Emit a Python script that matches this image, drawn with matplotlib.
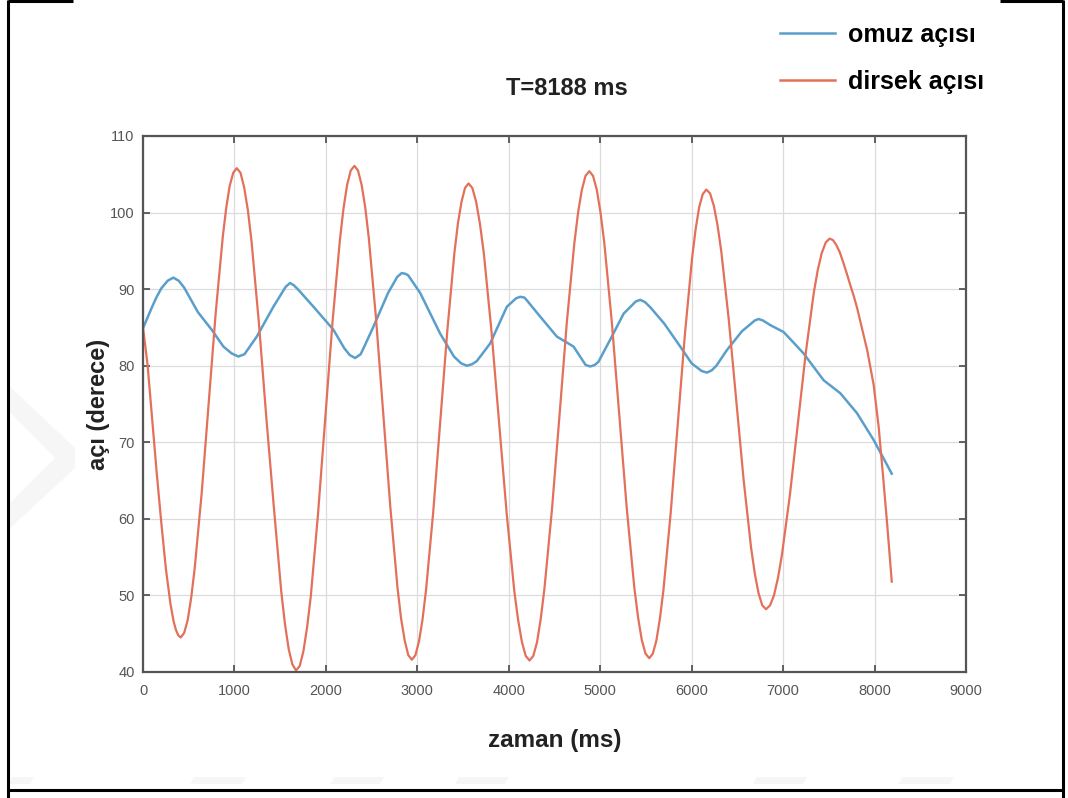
import matplotlib
matplotlib.use("Agg")
import matplotlib.pyplot as plt
from matplotlib.lines import Line2D
from matplotlib.patches import Polygon

plt.rcParams["font.family"] = ["Liberation Sans", "DejaVu Sans"]

# elbow angle (dirsek açısı), degrees vs time in ms
dirsek_t = [
    0, 50, 100, 150, 200, 250, 300, 335, 360, 385, 412,
    450, 489, 527, 565, 642, 719, 795, 872, 910, 948, 987, 1025,
    1066, 1106, 1147, 1187, 1268, 1350, 1431, 1512, 1552, 1593, 1633, 1674,
    1714, 1754, 1794, 1834, 1913, 1993, 2073, 2153, 2192, 2232, 2272, 2312,
    2351, 2391, 2430, 2469, 2548, 2626, 2705, 2783, 2822, 2862, 2901, 2940,
    2979, 3018, 3056, 3095, 3173, 3250, 3328, 3405, 3444, 3483, 3521, 3560,
    3602, 3643, 3685, 3727, 3810, 3894, 3977, 4060, 4102, 4144, 4185, 4227,
    4268, 4309, 4349, 4390, 4472, 4554, 4635, 4717, 4758, 4798, 4839, 4880,
    4921, 4962, 5003, 5044, 5126, 5208, 5290, 5372, 5413, 5454, 5495, 5536,
    5575, 5614, 5653, 5692, 5770, 5848, 5926, 6004, 6043, 6082, 6121, 6160,
    6201, 6242, 6282, 6323, 6405, 6487, 6568, 6650, 6691, 6731, 6772, 6813,
    6857, 6900, 6944, 6987, 7074, 7161, 7248, 7335, 7379, 7422, 7466, 7509,
    7545, 7580, 7620, 7660, 7700, 7735, 7775, 7810, 7870, 7920, 7990, 8045,
    8090, 8140, 8188,
]
dirsek_deg = [
    85.0, 80.1, 73.1, 66.0, 59.5, 53.5, 48.9, 46.6, 45.5, 44.8, 44.5,
    45.1, 46.8, 49.7, 53.5, 63.4, 75.2, 86.9, 96.8, 100.6, 103.5, 105.2, 105.8,
    105.2, 103.3, 100.3, 96.2, 85.5, 73.0, 61.5, 50.5, 46.3, 43.0, 41.0, 40.2,
    40.8, 42.7, 45.8, 49.8, 60.5, 73.2, 85.8, 96.4, 100.5, 103.6, 105.5, 106.1,
    105.5, 103.6, 100.7, 96.7, 86.2, 73.9, 61.5, 51.0, 47.0, 44.1, 42.2, 41.6,
    42.2, 44.0, 46.8, 50.7, 60.8, 72.7, 84.6, 94.7, 98.6, 101.4, 103.2, 103.8,
    103.2, 101.4, 98.5, 94.7, 84.6, 72.6, 60.7, 50.6, 46.8, 43.9, 42.1, 41.5,
    42.1, 43.9, 46.9, 50.9, 61.2, 73.4, 85.7, 96.0, 100.0, 102.9, 104.8, 105.4,
    104.8, 103.0, 100.0, 96.1, 85.8, 73.6, 61.4, 51.1, 47.2, 44.2, 42.4, 41.8,
    42.4, 44.1, 47.0, 50.8, 60.7, 72.4, 84.1, 94.0, 97.8, 100.7, 102.4, 103.0,
    102.5, 100.9, 98.4, 95.0, 86.1, 75.6, 65.1, 56.2, 52.8, 50.3, 48.7, 48.2,
    48.7, 50.0, 52.3, 55.3, 63.1, 72.4, 81.7, 89.5, 92.5, 94.7, 96.1, 96.6,
    96.4, 95.8, 94.8, 93.4, 91.9, 90.5, 89.0, 87.5, 84.5, 82.0, 77.5, 72.0,
    66.0, 59.0, 51.8,
]

# shoulder angle (omuz açısı)
omuz_t = [
    0, 50, 100, 150, 200, 270, 332, 390, 450, 600, 751, 879, 970, 1043, 1110,
    1244, 1426, 1560, 1608, 1650, 1700, 1864, 2082, 2200, 2260, 2319, 2380,
    2420, 2520, 2680, 2780, 2830, 2870, 2900, 3031, 3249, 3400, 3480, 3541,
    3600, 3650, 3796, 3979, 4080, 4125, 4170, 4200, 4344, 4526, 4708, 4840,
    4891, 4940, 4980, 5109, 5256, 5390, 5438, 5490, 5550, 5700, 5875, 6000,
    6110, 6167, 6220, 6270, 6386, 6550, 6690, 6732, 6780, 6860, 7005, 7100,
    7224, 7443, 7626, 7808, 7990, 8188,
]
omuz_deg = [
    84.9, 86.3, 87.7, 89.0, 90.1, 91.1, 91.5, 91.1, 90.2, 87.0, 84.7, 82.5, 81.6, 81.2, 81.5,
    83.8, 87.7, 90.3, 90.8, 90.5, 89.9, 87.7, 84.7, 82.3, 81.4, 81.0, 81.5,
    82.5, 85.1, 89.5, 91.6, 92.1, 92.0, 91.8, 89.5, 84.2, 81.2, 80.3, 80.0,
    80.2, 80.6, 82.9, 87.7, 88.8, 89.0, 88.9, 88.5, 86.4, 83.8, 82.5, 80.1,
    79.9, 80.1, 80.5, 83.4, 86.8, 88.4, 88.6, 88.3, 87.6, 85.5, 82.5, 80.3,
    79.3, 79.1, 79.4, 80.0, 82.05, 84.5, 85.9, 86.1, 85.9, 85.3, 84.4, 83.2,
    81.6, 78.1, 76.4, 73.8, 70.3, 65.9,
]

x_ticks = list(range(0, 10000, 1000))
y_ticks = list(range(40, 120, 10))

BLUE = "#5a9fcb"
RED = "#e3705a"
W, H = 1068, 798


def px(x, y):
    # pixel position (from top-left) -> figure fraction
    return x / W, 1 - y / H


fig = plt.figure(figsize=(W / 100, H / 100), dpi=100)
fig.patch.set_facecolor("white")

# faint watermark shapes behind everything
mark = dict(facecolor="#f6f6f6", edgecolor="none", transform=fig.transFigure, zorder=0)
fig.add_artist(Polygon([px(8, 385), px(75, 448), px(75, 468), px(8, 530), px(8, 505),
                        px(55, 458), px(8, 410)], **mark))
for x0, x1 in [(8, 30), (190, 242), (330, 380), (455, 505), (753, 803), (898, 950)]:
    fig.add_artist(Polygon([px(x0 + 4, 777), px(x1 + 4, 777), px(x1, 784), px(x0, 784)], **mark))

ax = fig.add_axes([0.1339, 0.1579, 0.7706, 0.6717])
ax.patch.set_alpha(0)
ax.plot(omuz_t, omuz_deg, color=BLUE, linewidth=1.8, solid_joinstyle="round")
ax.plot(dirsek_t, dirsek_deg, color=RED, linewidth=1.6, solid_joinstyle="round")

ax.set_xlim(0, 9000)
ax.set_ylim(40, 110)
ax.set_xticks(x_ticks)
ax.set_yticks(y_ticks)
ax.grid(True, color="#dcdcdc", linewidth=0.9)
ax.set_axisbelow(True)
for side in ax.spines.values():
    side.set_color("#555555")
    side.set_linewidth(1.6)
ax.tick_params(direction="in", length=5, width=1.3, color="#555555",
               top=True, right=True, labelsize=10.5, labelcolor="#555555")
ax.tick_params(axis="x", pad=9)
ax.tick_params(axis="y", pad=6)

ax.set_xlabel("zaman (ms)", fontsize=17.5, fontweight="bold", color="#222222", labelpad=22)
ax.set_ylabel("açı (derece)", fontsize=17, fontweight="bold", color="#222222", labelpad=0)

fig.text(0.531, 0.889, "T=8188 ms", fontsize=17, fontweight="bold",
         color="#222222", ha="center", va="center")

handles = [Line2D([], [], color=BLUE, linewidth=1.8),
           Line2D([], [], color=RED, linewidth=1.8)]
fig.legend(handles, ["omuz açısı", "dirsek açısı"], loc="upper left",
           bbox_to_anchor=(0.707, 1.003), frameon=False, prop={"size": 18, "weight": "bold"},
           handlelength=2.2, handletextpad=0.5, labelspacing=0.93, borderpad=0.5)

# page frame around the figure
frame = dict(color="black", linewidth=2.2, solid_capstyle="butt", transform=fig.transFigure)
fig.add_artist(Line2D([0.0075, 0.0075], [0.0, 1.0], **frame))
fig.add_artist(Line2D([0.9955, 0.9955], [0.0, 1.0], **frame))
fig.add_artist(Line2D([0.0075, 0.9955], [0.01, 0.01], **frame))
fig.add_artist(Line2D([0.0075, 0.068], [0.999, 0.999], **frame))
fig.add_artist(Line2D([0.936, 0.9955], [0.999, 0.999], **frame))

fig.savefig("out.png", dpi=100, facecolor="white")
